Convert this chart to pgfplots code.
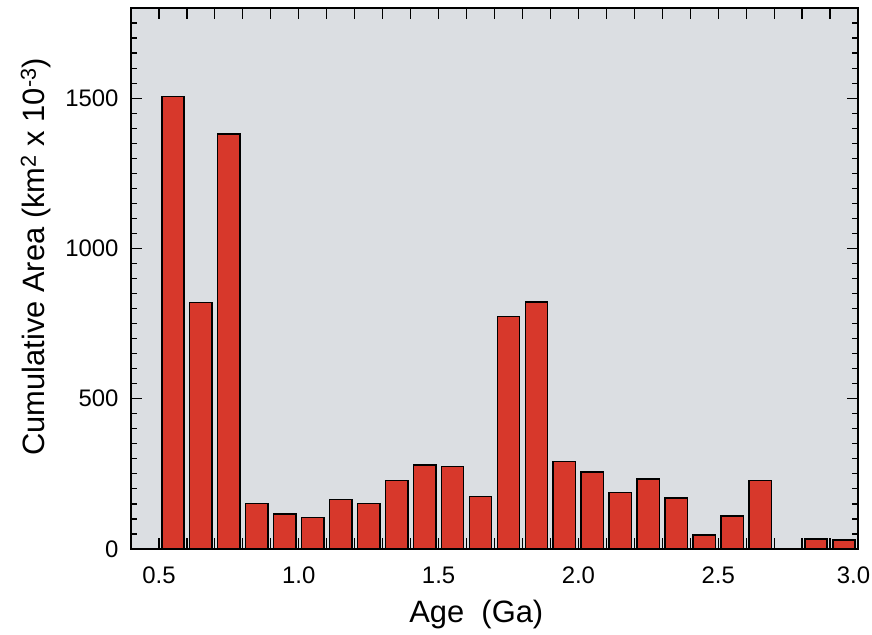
\documentclass[border=0pt]{standalone}
\usepackage{pgfplots}
\pgfplotsset{compat=1.18}
\usepackage{fontspec}
\setmainfont{Liberation Sans}

\definecolor{bgcol}{RGB}{219,222,226}
\definecolor{barcol}{RGB}{215,56,43}

\begin{document}
\begin{tikzpicture}

\begin{axis}[%
width=727bp,
height=541bp,
at={(0bp,0bp)},
scale only axis,
xmin=0.4,
xmax=3.0,
ymin=0,
ymax=1800,
axis background/.style={fill=bgcol},
axis line style={line width=1.6pt},
tick style={line width=1.2pt, color=black},
tick align=inside,
xtick={0.4,0.5,...,3.01},
xticklabels={,0.5,,,,,1.0,,,,,1.5,,,,,2.0,,,,,2.5,,,,,3.0\kern9bp},
ytick={0,500,1000,1500},
minor ytick={50,100,...,1800},
major tick length=11bp,
minor tick length=6bp,
/pgf/number format/assume math mode=true,
/pgf/number format/1000 sep={},
ticklabel style={font=\fontsize{24}{28}\selectfont},
xticklabel style={anchor=base, yshift=-34bp},
yticklabel style={anchor=east, xshift=-9bp},
xlabel={Age\ \ (Ga)},
ylabel={Cumulative Area (km\textsuperscript{2} x 10\textsuperscript{-3})},
label style={font=\fontsize{31}{36}\selectfont},
xlabel style={at={(axis description cs:0.475,-0.135)}, anchor=base},
ylabel style={at={(axis description cs:-0.1183,0.54)}, anchor=base, rotate=0},
]

\addplot[ybar, bar width=0.08, bar shift=0pt, draw=black, line width=1.5pt, fill=barcol]
table[row sep=crcr] {%
x	y\\
0.55	1505\\
0.65	820\\
0.75	1380\\
0.85	152\\
0.95	117\\
1.05	104\\
1.15	164\\
1.25	152\\
1.35	228\\
1.45	280\\
1.55	274\\
1.65	174\\
1.75	774\\
1.85	821\\
1.95	291\\
2.05	257\\
2.15	188\\
2.25	233\\
2.35	170\\
2.45	47\\
2.55	110\\
2.65	228\\
2.85	34\\
2.95	30\\
};
\end{axis}
\pgfresetboundingbox
\path (-131bp,-86bp) rectangle (741bp,549bp);
\end{tikzpicture}
\end{document}
